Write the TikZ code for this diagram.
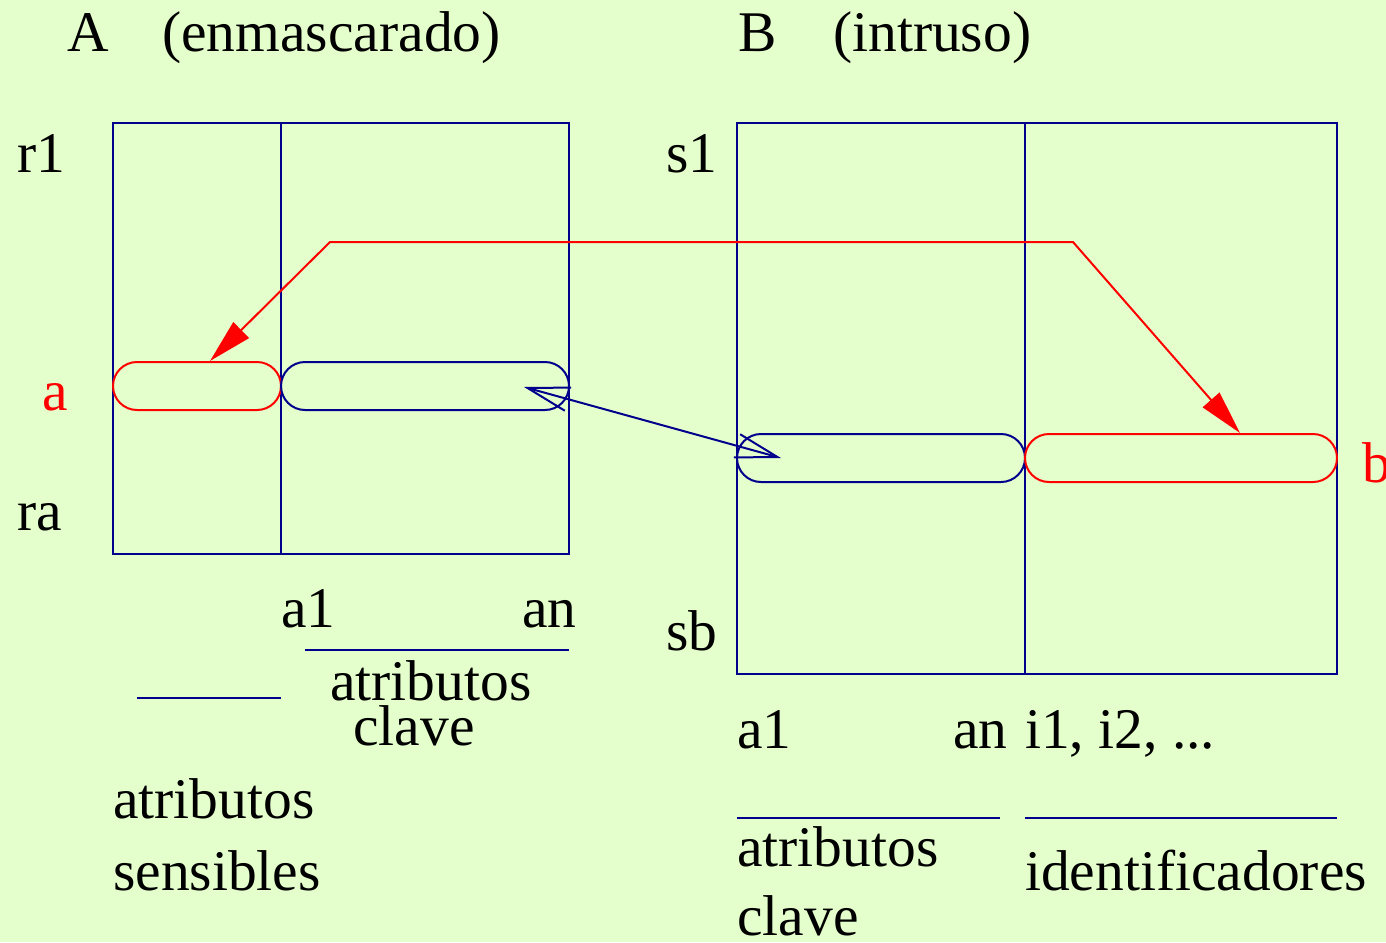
\documentclass[tikz,border=0pt]{standalone}
\usepackage{fontspec}
\setmainfont{Liberation Serif}
\usetikzlibrary{arrows.meta,calc}
\definecolor{bg}{RGB}{229,255,204}
\definecolor{navy}{RGB}{0,0,140}
\definecolor{hot}{RGB}{255,0,0}
\begin{document}
\begin{tikzpicture}[x=1pt,y=-1pt,
  lbl/.style={anchor=base west,inner sep=0pt,font=\fontsize{57.5}{62}\selectfont},
  redlbl/.style={lbl,text=hot},
  frame/.style={draw=navy,line width=2pt},
  pill/.style={draw,line width=2pt,rounded corners=24pt,minimum height=48pt,inner sep=0pt},
  bluepill/.style={pill,draw=navy},
  redpill/.style={pill,draw=hot},
  link/.style={draw=hot,line width=2pt,{Triangle[length=44pt,width=22pt]}-{Triangle[length=44pt,width=22pt]}},
  match/.style={draw=navy,line width=2pt,{Straight Barb[length=42pt,width=24pt]}-{Straight Barb[length=42pt,width=24pt]}},
  rule/.style={draw=navy,line width=2pt}]
\fill[bg] (0,0) rectangle (1386,942);
\useasboundingbox (0,0) rectangle (1386,942);

% table A (masked)
\node[lbl] (tA) at (67,52) {A};
\node[lbl] (tAx) at (162,52) {(enmascarado)};
\draw[frame] (113,123) rectangle (569,554);
\draw[frame] (281,123) -- (281,554);
\node[lbl] (r1) at (17,172) {r1};
\node[lbl] (ra) at (17,530) {ra};
\node[redlbl] (la) at (42,410) {a};
\node[redpill,minimum width=168pt] (pa) at (197,386) {};
\node[bluepill,minimum width=288pt] (ka) at (425,386) {};

% table B (intruder)
\node[lbl] (tB) at (738,52) {B};
\node[lbl] (tBx) at (833,52) {(intruso)};
\draw[frame] (737,123) rectangle (1337,674);
\draw[frame] (1025,123) -- (1025,674);
\node[lbl] (s1) at (666,172) {s1};
\node[lbl] (sb) at (666,650) {sb};
\node[redlbl] (lb) at (1362,482) {b};
\node[bluepill,minimum width=288pt] (kb) at (881,458) {};
\node[redpill,minimum width=312pt] (pb) at (1181,458) {};

% links between the rows
\coordinate (c1) at (1073,242);
\coordinate (c2) at (330,242);
\draw[link] ($(pb.north)+(59,0)$) -- (c1) -- (c2) -- ($(pa.north)+(13,0)$);
\draw[match] ($(ka.east)+(-46,1)$) -- ($(kb.west)+(45,0)$);

% column captions of A
\node[lbl] (a1A) at (281,627) {a1};
\node[lbl] (anA) at (522,627) {an};
\draw[rule] (305,650) -- (569,650);
\node[lbl] (atA) at (330,700) {atributos};
\node[lbl] (clA) at (353,745) {clave};
\draw[rule] (137,698) -- (281,698);
\node[lbl] (atS) at (113,818) {atributos};
\node[lbl] (sen) at (113,890) {sensibles};

% column captions of B
\node[lbl] (a1B) at (737,748) {a1};
\node[lbl] (anB) at (953,748) {an};
\node[lbl] (iB) at (1025,748) {i1, i2, ...};
\draw[rule] (737,818) -- (1000,818);
\draw[rule] (1025,818) -- (1337,818);
\node[lbl] (atB) at (737,866) {atributos};
\node[lbl] (clB) at (737,935) {clave};
\node[lbl] (idB) at (1025,890) {identificadores};
\end{tikzpicture}
\end{document}
